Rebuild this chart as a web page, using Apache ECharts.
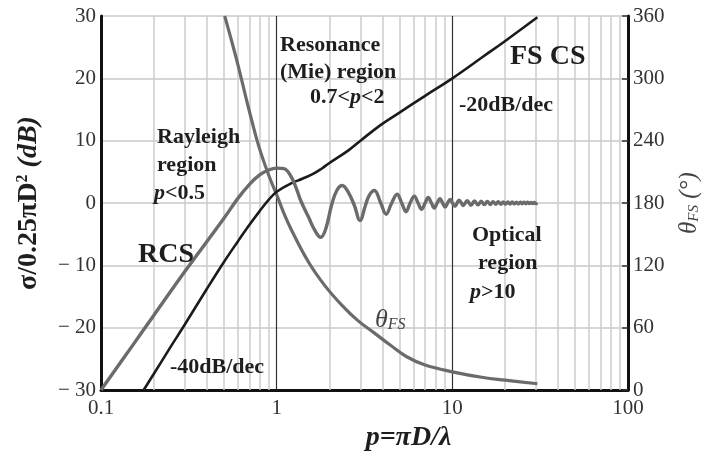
<!DOCTYPE html>
<html>
<head>
<meta charset="utf-8">
<script src="https://cdn.jsdelivr.net/npm/echarts@6/dist/echarts.min.js"></script>
<style>
  html, body { margin: 0; padding: 0; background: #fff; }
  #main { width: 703px; height: 454px; }
</style>
</head>
<body>
<div id="main"></div>
<script>
// RCS of a sphere, normalised (dB)
const rcsP = [0.1, 0.15, 0.2, 0.3, 0.4, 0.5, 0.6, 0.7, 0.8, 0.9,
  1.0, 1.1, 1.2, 1.3, 1.37, 1.52, 1.65, 1.78, 1.9, 2.06,
  2.2, 2.36, 2.55, 2.77, 2.98, 3.2, 3.36, 3.6, 3.9, 4.2,
  4.5, 4.85, 5.15, 5.45, 5.75, 6.08, 6.38, 6.68, 7.0, 7.29,
  7.6, 7.9, 8.2, 8.5, 8.8, 9.1, 9.4, 9.72, 10.33, 10.94,
  11.55, 12.16, 12.77, 13.38, 13.99, 14.6, 15.21, 15.82, 16.43, 17.04,
  17.65, 18.26, 18.87, 19.48, 20.09, 20.7, 21.31, 21.92, 22.53, 23.14,
  23.75, 24.36, 24.97, 25.58, 26.19, 26.8, 27.41, 28.02, 28.63, 29.24,
  29.85, 30.5];
const rcsDb = [-30, -23, -18, -11, -6.2, -2.5, 0.7, 3.0, 4.5, 5.3,
  5.6, 5.5, 4.4, 2.2, 0.4, -2.3, -4.4, -5.5, -4.2, -0.2,
  2.0, 2.8, 1.8, -0.4, -2.8, -0.4, 1.2, 2.0, 0.1, -1.8,
  -0.1, 1.4, 0, -1.4, 0, 1.1, 0, -1.0, 0, 0.9,
  0, -0.8, 0, 0.7, 0, -0.65, 0, 0.55, -0.5, 0.45,
  -0.4, 0.38, -0.35, 0.32, -0.3, 0.28, -0.26, 0.24, -0.23, 0.22,
  -0.2, 0.2, -0.19, 0.18, -0.17, 0.16, -0.16, 0.15, -0.14, 0.14,
  -0.13, 0.13, -0.12, 0.12, -0.11, 0.11, -0.1, 0.1, -0.1, 0.1,
  -0.1, 0];

// forward scattering cross section (dB)
const fsP = [0.175, 0.2, 0.25, 0.3, 0.4, 0.5, 0.6, 0.7, 0.8, 0.9, 1.0,
  1.2, 1.4, 1.62, 1.8, 1.97, 2.55, 3.0, 3.9, 5, 7, 10, 15, 20, 30.5];
const fsDb = [-30, -27.4, -23.0, -19.5, -13.8, -9.5, -6.2, -3.5, -1.3, 0.5, 1.8,
  3.1, 3.9, 4.7, 5.5, 6.3, 8.4, 10.0, 12.5, 14.5, 17.2, 20, 23.5, 26, 29.8];

// forward scattering beam width (deg)
const thP = [0.506, 0.55, 0.6, 0.635, 0.7, 0.79, 0.9, 1.0, 1.1, 1.23, 1.52,
  1.89, 2.34, 2.89, 3.59, 4.45, 5.5, 7, 10, 15, 20, 30.5];
const thDeg = [360, 338, 314, 297, 268, 235, 207, 188, 170, 152, 123,
  100, 82, 67, 55, 43, 32, 24, 17.5, 12, 9.5, 6];

const minorX = [0.2, 0.3, 0.4, 0.5, 0.6, 0.7, 0.8, 0.9,
  2, 3, 4, 5, 6, 7, 8, 9, 20, 30, 40, 50, 60, 70, 80, 90];

const serif = '"Liberation Serif", "DejaVu Serif", serif';
const ink = '#1e1e1e';
const pairs = (xs, ys) => xs.map((x, i) => [x, ys[i]]);

var chart = echarts.init(document.getElementById('main'));

function note(text, x, y, size) {
  return {
    type: 'text', x: x, y: y, z: 20, silent: true,
    style: {
      text: text, fontFamily: serif, fontSize: size, fontWeight: 'bold',
      fill: ink, verticalAlign: 'middle',
      rich: {
        i: { fontFamily: serif, fontSize: size, fontWeight: 'bold', fontStyle: 'italic', fill: ink },
        t: { fontFamily: serif, fontSize: size, fontStyle: 'italic', fill: '#444' },
        s: { fontFamily: serif, fontSize: Math.round(size * 0.62), fontStyle: 'italic', fill: '#444',
             verticalAlign: 'bottom' }
      }
    }
  };
}

var option = {
  animation: false,
  backgroundColor: '#fff',
  grid: { left: 101, right: 75, top: 16, bottom: 64, containLabel: false, outerBoundsMode: 'none' },
  xAxis: {
    type: 'log', logBase: 10, min: 0.1, max: 100,
    name: 'p=πD/λ',
    nameLocation: 'middle', nameGap: 33,
    nameTextStyle: {
      fontFamily: serif, fontSize: 28, fontStyle: 'italic', fontWeight: 'bold',
      color: ink, padding: [0, 0, 0, 88]
    },
    axisLine: { onZero: false, lineStyle: { color: '#111', width: 3 } },
    axisTick: { show: false },
    axisLabel: {
      fontFamily: serif, fontSize: 21, color: '#333', margin: 8,
      formatter: v => String(+v.toPrecision(3))
    },
    splitLine: { show: true, lineStyle: { color: '#333', width: 1.2 } }
  },
  yAxis: [
    {
      type: 'value', min: -30, max: 30, interval: 10,
      name: '{a|σ/0.25πD}{p|2}{a| }{i|(dB)}',
      nameLocation: 'middle', nameGap: 58, nameRotate: 90,
      nameTextStyle: {
        color: ink,
        rich: {
          a: { fontFamily: serif, fontSize: 28, fontWeight: 'bold', color: ink },
          p: { fontFamily: serif, fontSize: 16, fontWeight: 'bold', color: ink, verticalAlign: 'top' },
          i: { fontFamily: serif, fontSize: 28, fontWeight: 'bold', fontStyle: 'italic', color: ink }
        }
      },
      axisLine: { show: true, lineStyle: { color: '#111', width: 3 } },
      axisTick: { show: false },
      axisLabel: {
        fontFamily: serif, fontSize: 21, color: '#333', margin: 5,
        formatter: v => v < 0 ? '− ' + Math.abs(v) : String(v)
      },
      splitLine: { show: true, lineStyle: { color: '#c8c8c8', width: 1.5 } }
    },
    {
      type: 'value', min: 0, max: 360, interval: 60, position: 'right',
      name: '{t|θ}{s|FS}{t| (°)}',
      nameLocation: 'middle', nameGap: 49, nameRotate: 90,
      nameTextStyle: {
        color: '#444',
        rich: {
          t: { fontFamily: serif, fontSize: 25, fontStyle: 'italic', color: '#444' },
          s: { fontFamily: serif, fontSize: 15, fontStyle: 'italic', color: '#444', verticalAlign: 'bottom' }
        }
      },
      axisLine: { show: true, lineStyle: { color: '#111', width: 3 } },
      axisTick: { show: true, inside: true, length: 6, lineStyle: { color: '#333', width: 1.5 } },
      axisLabel: { fontFamily: serif, fontSize: 21, color: '#333', margin: 5 },
      splitLine: { show: false }
    }
  ],
  series: [
    {
      name: 'grid', type: 'line', data: [], z: 1,
      markLine: {
        silent: true, symbol: 'none', z: 1, animation: false,
        label: { show: false },
        lineStyle: { type: 'solid', color: '#cdcdcd', width: 1.5 },
        data: minorX.map(v => ({ xAxis: v }))
      }
    },
    {
      name: 'θFS', type: 'line', yAxisIndex: 1, smooth: 0.4, showSymbol: false, z: 3,
      lineStyle: { color: '#6b6b6b', width: 3.2 },
      data: pairs(thP, thDeg)
    },
    {
      name: 'FS CS', type: 'line', smooth: 0.4, showSymbol: false, z: 4,
      lineStyle: { color: '#1b1b1b', width: 2.6 },
      data: pairs(fsP, fsDb)
    },
    {
      name: 'RCS', type: 'line', smooth: 0.4, showSymbol: false, z: 5,
      lineStyle: { color: '#6b6b6b', width: 3.4 },
      data: pairs(rcsP, rcsDb)
    }
  ],
  graphic: [
    note('Resonance', 280, 45, 22),
    note('(Mie) region', 280, 72, 22),
    note('0.7<{i|p}<2', 310, 97, 22),
    note('FS CS', 510, 57, 28),
    note('-20dB/dec', 459, 105, 22),
    note('Rayleigh', 157, 137, 22),
    note('region', 157, 165, 22),
    note('{i|p}<0.5', 154, 193, 22),
    note('RCS', 138, 255, 28),
    note('-40dB/dec', 170, 367, 22),
    note('Optical', 472, 235, 22),
    note('region', 478, 263, 22),
    note('{i|p}>10', 470, 292, 22),
    note('{t|θ}{s|FS}', 375, 320, 26)
  ]
};

option && chart.setOption(option);
</script>
</body>
</html>
